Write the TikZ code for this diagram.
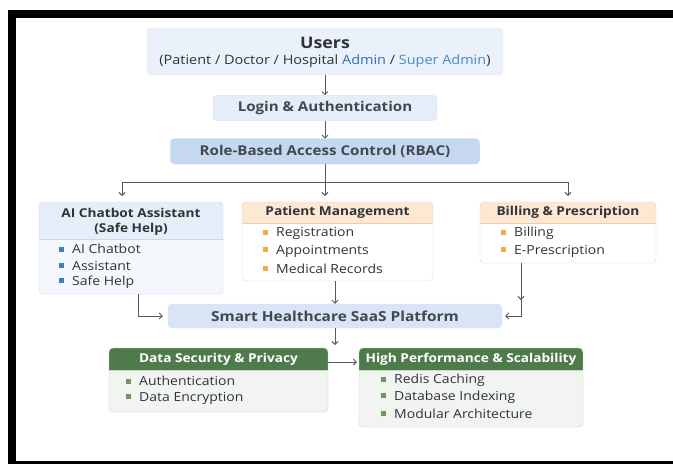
\documentclass[tikz,border=0pt]{standalone}
\usepackage{fontspec}
\setmainfont{Open Sans}[FakeStretch=1.12]
\usepackage{tikz}
\usetikzlibrary{positioning,arrows.meta}

\definecolor{txt}{HTML}{2F3437}
\definecolor{admblue}{HTML}{2D6EB5}
\definecolor{supblue}{HTML}{4B88C4}
\definecolor{usersfill}{HTML}{EBF1FA}
\definecolor{usersedge}{HTML}{DCE5F2}
\definecolor{loginfill}{HTML}{E5EDF8}
\definecolor{rbacfill}{HTML}{C6D8F1}
\definecolor{rbacedge}{HTML}{B5CAE8}
\definecolor{smartfill}{HTML}{D9E5F6}
\definecolor{aihead}{HTML}{E6EEF9}
\definecolor{aibody}{HTML}{F4F7FC}
\definecolor{aiedge}{HTML}{C9D7EB}
\definecolor{orhead}{HTML}{FCE8D3}
\definecolor{oredge}{HTML}{EFCFA9}
\definecolor{grhead}{HTML}{4F7B4C}
\definecolor{grbody}{HTML}{F1F4F0}
\definecolor{gredge}{HTML}{CBD6C9}
\definecolor{bulblue}{HTML}{3C7DC4}
\definecolor{bulorange}{HTML}{F2A94A}
\definecolor{bulgreen}{HTML}{6B9B5C}
\definecolor{arrgray}{HTML}{555A60}
\definecolor{midtxt}{HTML}{42484E}

\newcommand\sqbul[1]{{\color{#1}\rule[2pt]{5pt}{5pt}}\hspace{8pt}}
\newcommand\hdcard[4]{%
  \begin{scope}
    \clip[rounded corners=4pt] (#1.north west) rectangle (#1.south east);
    \fill[#3] (#1.north west) rectangle ([yshift=-#2]#1.north east);
  \end{scope}
  \draw[#4,rounded corners=4pt] (#1.north west) rectangle (#1.south east);
  \draw[#4] ([yshift=-#2]#1.north west) -- ([yshift=-#2]#1.north east);}

\tikzset{
  plain/.style={rectangle,rounded corners=4pt,inner sep=0pt,font=\fontsize{13.5}{15}\selectfont\bfseries,text=midtxt},
  card/.style={rectangle,inner sep=0pt,outer sep=0pt},
  hdtext/.style={font=\fontsize{12.2}{15}\selectfont\bfseries,text=txt,align=center,inner sep=0pt},
  item/.style={anchor=west,font=\fontsize{12.5}{14}\selectfont,text=txt,inner sep=0pt},
  arr/.style={draw=arrgray,line width=0.9pt,-{Straight Barb[length=3pt,width=6pt]}}
}

\begin{document}
\begin{tikzpicture}[x=1pt,y=-1pt]
  \useasboundingbox (0,0) rectangle (673,464);
  \fill[white] (0,0) rectangle (673,464);
  \fill[black] (8,10) rectangle (673,18);
  \fill[black] (8,10) rectangle (16,464);
  \fill[black] (8,461) rectangle (673,464);

  \node[plain,fill=usersfill,draw=usersedge,minimum width=356pt,minimum height=47pt] (users) at (325,51.5) {};
  \node[hdtext,font=\fontsize{15.9}{17}\selectfont\bfseries] (userst) at ([yshift=-15pt]users.north) {Users};
  \node[item,anchor=center,font=\fontsize{12.9}{14}\selectfont] (userssub) at ([yshift=-33pt]users.north) {(Patient / Doctor / Hospital \textcolor{admblue}{Admin} / \textcolor{supblue}{Super Admin})};
  \node[plain,fill=loginfill,draw=usersedge,minimum width=224pt,minimum height=25pt] (login) [below=20pt of users] {Login \& Authentication};
  \node[plain,fill=rbacfill,draw=rbacedge,minimum width=309pt,minimum height=25pt] (rbac) [below=18pt of login] {Role-Based Access Control (RBAC)};

  \node[card,minimum width=184pt,minimum height=92pt] (ai) at (131,248) {};
  \fill[aibody,rounded corners=4pt] (ai.north west) rectangle (ai.south east);
  \hdcard{ai}{37pt}{aihead}{aiedge}
  \node[hdtext] (aihd) at ([yshift=-20pt]ai.north) {AI Chatbot Assistant\\(Safe Help)};
  \foreach \t [count=\i] in {AI Chatbot,Assistant,Safe Help}
    \node[item] (aiit\i) at ([xshift=20pt,yshift={-30.5-16.5*\i}]ai.north west) {\sqbul{bulblue}\t};

  \node[card,minimum width=191pt,minimum height=79pt] (pat) at (337.5,241.5) {};
  \fill[white,rounded corners=4pt] (pat.north west) rectangle (pat.south east);
  \hdcard{pat}{21pt}{orhead}{oredge}
  \node[hdtext] (pathd) at ([yshift=-10.5pt]pat.north) {Patient Management};
  \foreach \t [count=\i] in {Registration,Appointments,Medical Records}
    \node[item] (patit\i) at ([xshift=21pt,yshift={-14-17.5*\i}]pat.north west) {\sqbul{bulorange}\t};

  \node[card,minimum width=176pt,minimum height=61pt] (bill) at (568,232.5) {};
  \fill[white,rounded corners=4pt] (bill.north west) rectangle (bill.south east);
  \hdcard{bill}{21pt}{orhead}{oredge}
  \node[hdtext] (billhd) at ([yshift=-10.5pt]bill.north) {Billing \& Prescription};
  \foreach \t [count=\i] in {Billing,E-Prescription}
    \node[item] (billit\i) at ([xshift=21pt,yshift={-14-17.5*\i}]bill.north west) {\sqbul{bulorange}\t};

  \node[plain,fill=smartfill,draw=smartfill,minimum width=334pt,minimum height=24pt,font=\fontsize{13.8}{15}\selectfont\bfseries] (smart) at (335,316) {Smart Healthcare SaaS Platform};

  \node[card,minimum width=219pt,minimum height=64pt] (data) at (218.5,380) {};
  \fill[grbody,rounded corners=4pt] (data.north west) rectangle (data.south east);
  \hdcard{data}{22pt}{grhead}{gredge}
  \node[hdtext,text=white] (datahd) at ([yshift=-11pt]data.north) {Data Security \& Privacy};
  \foreach \t [count=\i] in {Authentication,Data Encryption}
    \node[item] (datait\i) at ([xshift=17pt,yshift={-16-17*\i}]data.north west) {\sqbul{bulgreen}\t};

  \node[card,minimum width=224pt,minimum height=79pt] (hp) at (471,387.5) {};
  \fill[grbody,rounded corners=4pt] (hp.north west) rectangle (hp.south east);
  \hdcard{hp}{22pt}{grhead}{gredge}
  \node[hdtext,text=white] (hphd) at ([yshift=-11pt]hp.north) {High Performance \& Scalability};
  \foreach \t [count=\i] in {Redis Caching,Database Indexing,Modular Architecture}
    \node[item] (hpit\i) at ([xshift=22pt,yshift={-16-16.5*\i}]hp.north west) {\sqbul{bulgreen}\t};

  \coordinate (br) at ([yshift=-18pt]rbac.south);
  \coordinate (split) at (smart.south |- data.north);
  \coordinate (bturn) at ([xshift=-47pt]bill.south |- smart.east);

  \draw[arr] (users) -- (login);
  \draw[arr] (login) -- (rbac);
  \draw[draw=arrgray,line width=0.9pt] (rbac.south) -- (br);
  \draw[arr,shorten >=6pt] (br) -| ([xshift=-9pt]ai.north);
  \draw[arr,shorten >=6pt] (br) -- (br |- pat.north);
  \draw[arr,shorten >=6pt] (br) -| (bill.north);
  \draw[arr,shorten >=5pt] ([xshift=7pt]ai.south) |- (smart.west);
  \draw[arr] (smart.north |- pat.south) -- (smart.north);
  \draw[arr,shorten >=16pt] ([xshift=-47pt]bill.south) -- (bturn);
  \draw[arr,shorten >=3pt] ([xshift=-47pt]bill.south) |- (smart.east);
  \draw[arr,shorten >=3pt] (smart.south) -- (split);
  \draw[arr,shorten >=2pt] ([yshift=-14pt]data.north east) -- ([yshift=-14pt]data.north east -| hp.west);
\end{tikzpicture}
\end{document}
